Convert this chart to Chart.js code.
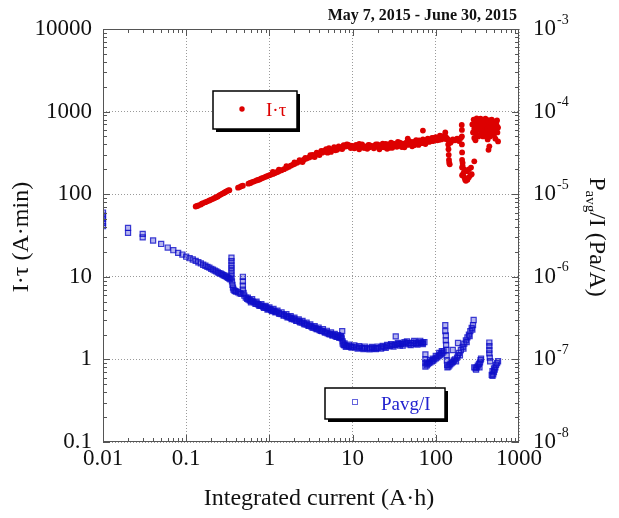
<!DOCTYPE html>
<html>
<head>
<meta charset="utf-8">
<script src="https://cdn.jsdelivr.net/npm/chart.js@4.4.1/dist/chart.umd.min.js"></script>
<style>
  html, body { margin: 0; padding: 0; background: #fff; }
  #wrap { width: 619px; height: 518px; }
</style>
</head>
<body>
<div id="wrap"><canvas id="out" width="619" height="518"></canvas></div>
<script>
// axis ticks
const xTicks = [0.01, 0.1, 1, 10, 100, 1000];
const xTickLabels = ["0.01", "0.1", "1", "10", "100", "1000"];
const yTicks = [0.1, 1, 10, 100, 1000, 10000];
const yTickLabels = ["0.1", "1", "10", "100", "1000", "10000"];
const y2Ticks = [1e-8, 1e-7, 1e-6, 1e-5, 1e-4, 1e-3];
const y2Exponents = ["-8", "-7", "-6", "-5", "-4", "-3"];

// I·tau (A·min) vs integrated current (A·h)
const itauData = [
  [0.13,71],[0.135,72],[0.14,73],[0.15,75],[0.155,77],[0.16,78],[0.17,80],[0.18,82],[0.19,84],[0.2,86],
  [0.21,88],[0.22,90],[0.23,92],[0.24,94],[0.25,97],[0.26,99],[0.27,101],[0.28,103],[0.29,105],[0.3,107],
  [0.31,109],[0.32,111],[0.33,112],
  [0.42,120],[0.44,122],[0.46,125],[0.48,127],
  [0.56,134],[0.58,136],[0.6,138],[0.63,141],[0.66,143],[0.7,147],[0.73,149],[0.76,151],[0.8,155],[0.84,158],
  [0.88,161],[0.92,164],[0.96,167],[1.0,170],[1.05,173],[1.1,176],[1.15,179],[1.2,183],[1.25,186],[1.3,189],
  [1.4,195],[1.5,201],[1.6,208],[1.7,214],[1.8,221],[1.9,227],[2.0,232],[2.15,240],[2.3,248],[2.45,254],
  [2.6,262],[2.8,270],[3.0,278],[3.2,286],[3.4,293],[3.6,300],[3.8,306],[4.0,312],[4.3,318],[4.6,326],
  [5.0,334],[5.4,342],[5.8,350],[6.2,356],[6.6,362],[7.0,367],[7.5,372],[8.0,376],[8.5,380],[9.0,384],
  [9.5,388],[10,385],[2.5,245],[3.5,282],[4.5,335],[5.5,325],[6.5,345],[7.5,352],[8.5,400],[9.5,362],
  [1.1,186],[1.3,198],[1.6,218],[2.0,243],[2.3,258],[2.7,275],[3.1,296],[3.7,318],[4.2,335],[4.8,350],
  [5.2,360],[6.0,372],[6.8,380],[7.8,392],[8.8,398],[3.3,300],[4.0,298],[5.0,318],[6.2,340],[7.2,358],
  [10.5,360],[11,395],[11.5,375],[12,350],[12.5,385],[13,400],[13.5,365],[14,380],[15,355],[15.5,395],
  [16,370],[17,385],[18,360],[19,400],[20,375],[21,350],[22,390],[23,410],[24,370],[25,385],
  [26,355],[27,400],[28,380],[29,420],[30,365],[32,395],[34,375],[35,430],[36,400],[38,385],
  [40,410],[42,370],[44,420],[46,395],[48,440],[50,405],[52,380],[54,430],[56,410],[58,450],
  [60,420],[62,395],[65,440],[68,415],[70,460],[72,430],[75,405],[78,450],[80,470],[83,430],
  [86,455],[90,480],[93,440],[96,465],[100,490],[104,450],[108,475],[112,510],[116,460],[120,490],
  [125,470],[130,500],[135,480],[70,590],[130,560],[46,470],
  [11,370],[12,405],[14,365],[16,392],[18,378],[20,402],[23,372],[25,405],[28,365],[31,410],
  [33,390],[37,420],[39,372],[43,400],[47,418],[51,428],[55,392],[59,430],[63,448],[67,430],
  [71,440],[76,425],[82,455],[88,440],[95,480],[102,470],[110,455],[118,505],[124,488],[133,465],
  [140,460],[141,400],[142,350],[143,300],[144,260],[145,240],[147,230],
  [150,420],[155,440],[160,460],[170,450],[180,470],[190,440],[200,480],
  [205,690],[206,600],[206,500],[206,400],[207,320],[207,260],[207,210],[207,170],
  [210,220],[215,180],[220,160],[225,150],[230,145],[240,150],[250,160],[260,170],[270,175],
  [220,200],[235,190],[250,200],[265,210],[210,240],[290,250],
  [275,700],[280,560],[285,800],[290,480],[295,650],[300,760],[305,540],[310,830],[315,620],[320,700],
  [325,500],[330,780],[335,600],[340,680],[345,820],[350,540],[355,720],[360,620],[365,790],[370,500],
  [375,680],[380,760],[385,580],[390,700],[395,820],[400,520],[405,640],[410,740],[415,600],[420,790],
  [425,680],[430,540],[435,720],[440,620],[445,780],[450,500],[455,680],[460,740],[465,580],[470,800],
  [475,640],[480,720],[490,560],[500,760],[510,660],[520,600],[530,740],[540,680],[550,560],[560,640],
  [430,345],[440,380],[560,436],[300,450],[420,460],[520,470],[290,620],[330,640],[370,700],[410,560],
  [450,600],[490,680],[530,620],[545,780],[500,520]
];

// Pavg/I (Pa/A) vs integrated current (A·h)
const pavgData = [
  [0.01,6.0e-6],[0.01,5.5e-6],[0.01,5.0e-6],[0.01,4.5e-6],[0.01,4.1e-6],
  [0.02,3.9e-6],[0.02,3.4e-6],[0.03,3.3e-6],[0.03,3.0e-6],[0.04,2.75e-6],[0.05,2.5e-6],
  [0.06,2.26e-6],[0.07,2.1e-6],[0.08,1.95e-6],[0.09,1.86e-6],
  [0.1,1.75e-6],[0.11,1.68e-6],[0.12,1.62e-6],[0.13,1.56e-6],[0.14,1.5e-6],[0.15,1.45e-6],[0.16,1.4e-6],
  [0.17,1.36e-6],[0.18,1.32e-6],[0.19,1.29e-6],[0.2,1.25e-6],[0.21,1.22e-6],[0.22,1.19e-6],[0.23,1.16e-6],
  [0.24,1.13e-6],[0.25,1.11e-6],[0.26,1.09e-6],[0.27,1.07e-6],[0.28,1.05e-6],[0.29,1.03e-6],[0.3,1.01e-6],
  [0.31,0.99e-6],[0.32,0.97e-6],[0.33,0.95e-6],[0.34,0.93e-6],
  [0.35,1.7e-6],[0.35,1.55e-6],[0.35,1.4e-6],[0.35,1.28e-6],[0.35,1.17e-6],[0.35,1.07e-6],[0.35,0.98e-6],
  [0.355,0.88e-6],[0.36,0.8e-6],[0.365,0.74e-6],[0.37,0.7e-6],[0.38,0.68e-6],[0.39,0.67e-6],[0.4,0.66e-6],
  [0.42,0.65e-6],[0.44,0.63e-6],[0.46,0.62e-6],
  [0.48,1.0e-6],[0.48,0.88e-6],[0.48,0.78e-6],[0.48,0.7e-6],[0.49,0.64e-6],
  [0.5,0.59e-6],[0.52,0.56e-6],[0.54,0.54e-6],[0.56,0.53e-6],[0.58,0.52e-6],[0.6,0.51e-6],[0.63,0.5e-6],
  [0.66,0.49e-6],[0.7,0.475e-6],[0.73,0.465e-6],[0.76,0.455e-6],[0.8,0.445e-6],[0.84,0.435e-6],
  [0.88,0.428e-6],[0.92,0.42e-6],[0.96,0.413e-6],[1.0,0.405e-6],[1.05,0.397e-6],[1.1,0.39e-6],
  [1.15,0.383e-6],[1.2,0.376e-6],[1.3,0.364e-6],[1.4,0.353e-6],[1.5,0.343e-6],[1.6,0.334e-6],
  [1.7,0.326e-6],[1.8,0.318e-6],[1.9,0.311e-6],[2.0,0.304e-6],[2.15,0.295e-6],[2.3,0.287e-6],
  [2.45,0.279e-6],[2.6,0.272e-6],[2.8,0.264e-6],[3.0,0.256e-6],[3.2,0.249e-6],[3.4,0.243e-6],
  [3.6,0.237e-6],[3.8,0.232e-6],[4.0,0.227e-6],[4.3,0.22e-6],[4.6,0.214e-6],[5.0,0.207e-6],
  [5.4,0.201e-6],[5.8,0.196e-6],[6.2,0.191e-6],[6.6,0.187e-6],[7.0,0.183e-6],[7.4,0.18e-6],
  [0.55,0.56e-6],[0.62,0.535e-6],[0.7,0.5e-6],[0.8,0.468e-6],[0.9,0.445e-6],[1.0,0.425e-6],
  [1.12,0.408e-6],[1.25,0.39e-6],[1.4,0.372e-6],[1.6,0.352e-6],[1.8,0.335e-6],[2.0,0.32e-6],
  [2.25,0.305e-6],[2.5,0.292e-6],[2.8,0.278e-6],[3.1,0.266e-6],[3.5,0.253e-6],[3.9,0.243e-6],
  [4.4,0.232e-6],[4.9,0.222e-6],[5.5,0.212e-6],[6.1,0.204e-6],[6.7,0.197e-6],[7.2,0.192e-6],
  [0.6,0.49e-6],[0.68,0.47e-6],[0.76,0.445e-6],[0.86,0.42e-6],[0.95,0.402e-6],[1.07,0.385e-6],
  [1.18,0.37e-6],[1.32,0.355e-6],[1.48,0.338e-6],[1.65,0.323e-6],[1.85,0.308e-6],[2.1,0.292e-6],
  [2.35,0.28e-6],[2.65,0.266e-6],[2.95,0.254e-6],[3.3,0.242e-6],[3.7,0.232e-6],[4.15,0.222e-6],
  [4.7,0.211e-6],[5.2,0.203e-6],[5.7,0.196e-6],[6.4,0.188e-6],[6.9,0.183e-6],[7.3,0.186e-6],
  [7.5,0.22e-6],[7.6,0.165e-6],[7.6,0.155e-6],[7.8,0.15e-6],[8.0,0.148e-6],[8.5,0.146e-6],[9.0,0.144e-6],
  [9.5,0.143e-6],[10,0.142e-6],[11,0.14e-6],[12,0.139e-6],[13,0.138e-6],[14,0.137e-6],[15,0.136e-6],
  [16,0.136e-6],[17,0.136e-6],[18,0.136e-6],[19,0.137e-6],[20,0.138e-6],[22,0.14e-6],[24,0.142e-6],
  [26,0.144e-6],[28,0.146e-6],[30,0.148e-6],[32,0.15e-6],[33,0.19e-6],[34,0.152e-6],[36,0.153e-6],
  [38,0.154e-6],[40,0.155e-6],[43,0.156e-6],[46,0.157e-6],[50,0.158e-6],[54,0.158e-6],[58,0.159e-6],
  [62,0.16e-6],[66,0.16e-6],[70,0.161e-6],[73,0.162e-6],
  [8.0,0.156e-6],[9.0,0.151e-6],[10.5,0.148e-6],[12,0.145e-6],[14,0.143e-6],[17,0.142e-6],
  [20,0.143e-6],[23,0.146e-6],[26,0.15e-6],[29,0.153e-6],[35,0.158e-6],[42,0.162e-6],
  [40,0.147e-6],[50,0.149e-6],[60,0.151e-6],[70,0.153e-6],[45,0.165e-6],[55,0.167e-6],[65,0.168e-6],
  [8.3,0.142e-6],[9.7,0.139e-6],[11.5,0.135e-6],[13.5,0.133e-6],[16,0.132e-6],[19,0.133e-6],
  [22,0.135e-6],[25,0.138e-6],[31,0.143e-6],[37,0.147e-6],[48,0.152e-6],[58,0.154e-6],[68,0.157e-6],
  [75,1.15e-7],[75,1.0e-7],[75,0.9e-7],[75,0.82e-7],[78,0.85e-7],[80,0.88e-7],[83,0.9e-7],[86,0.92e-7],
  [90,0.95e-7],[93,0.97e-7],[96,1.0e-7],[100,1.03e-7],[104,1.06e-7],[108,1.1e-7],[112,1.13e-7],
  [116,1.17e-7],[120,1.2e-7],[124,1.25e-7],
  [78,0.92e-7],[85,0.98e-7],[92,1.02e-7],[100,1.1e-7],[110,1.2e-7],[118,1.26e-7],
  [130,2.6e-7],[130,2.2e-7],[132,1.95e-7],[132,1.7e-7],[133,1.5e-7],[134,1.3e-7],[135,1.12e-7],
  [136,0.97e-7],[137,0.86e-7],[138,0.8e-7],
  [142,0.82e-7],[146,0.85e-7],[150,0.88e-7],[155,0.9e-7],[160,0.93e-7],[165,0.97e-7],[170,1.0e-7],
  [160,1.3e-7],[185,1.58e-7],
  [175,0.95e-7],[180,1.05e-7],[185,1.12e-7],[190,1.2e-7],[200,1.3e-7],[210,1.42e-7],[220,1.55e-7],
  [230,1.7e-7],[240,1.85e-7],[250,2.0e-7],[260,2.2e-7],[270,2.4e-7],[280,2.6e-7],[285,3.0e-7],
  [195,1.12e-7],[215,1.35e-7],[235,1.62e-7],[255,1.92e-7],[275,2.3e-7],
  [290,0.8e-7],[300,0.78e-7],[305,0.75e-7],[310,0.8e-7],[320,0.84e-7],[330,0.88e-7],[340,0.92e-7],
  [345,0.98e-7],[350,1.02e-7],[335,0.8e-7],
  [440,1.6e-7],[440,1.45e-7],[440,1.3e-7],[440,1.18e-7],[445,1.05e-7],[450,0.95e-7],
  [470,0.65e-7],[480,0.63e-7],[490,0.66e-7],[500,0.7e-7],[510,0.75e-7],[520,0.8e-7],[530,0.86e-7],
  [545,0.9e-7],[560,0.95e-7],[480,0.72e-7],[500,0.78e-7]
];

const serif = "'Liberation Serif', 'Times New Roman', serif";
const red = "#dd0000";
const blue = "#2323cf";

// frame, inward ticks, legends, titles and right-hand labels
const decorations = {
  id: "decorations",
  afterDraw(chart) {
    const ctx = chart.ctx;
    const a = chart.chartArea;
    const sx = chart.scales.x, sy = chart.scales.y, sy2 = chart.scales.y2;
    ctx.save();

    ctx.strokeStyle = "#555";
    ctx.lineWidth = 1;
    ctx.strokeRect(a.left + 0.5, a.top + 0.5, a.right - a.left - 1, a.bottom - a.top - 1);

    ctx.beginPath();
    for (let k = -2; k < 3; k++) {
      for (let j = 1; j < 10; j++) {
        const px = Math.round(sx.getPixelForValue(j * Math.pow(10, k))) + 0.5;
        const len = j === 1 ? 7 : 4;
        ctx.moveTo(px, a.bottom); ctx.lineTo(px, a.bottom - len);
        ctx.moveTo(px, a.top); ctx.lineTo(px, a.top + len);
      }
    }
    for (let k = -1; k < 4; k++) {
      for (let j = 1; j < 10; j++) {
        const py = Math.round(sy.getPixelForValue(j * Math.pow(10, k))) + 0.5;
        const len = j === 1 ? 7 : 4;
        ctx.moveTo(a.left, py); ctx.lineTo(a.left + len, py);
        ctx.moveTo(a.right, py); ctx.lineTo(a.right - len, py);
      }
    }
    ctx.stroke();

    // right axis labels 10^n
    ctx.fillStyle = "#111";
    ctx.textBaseline = "middle";
    ctx.textAlign = "left";
    y2Ticks.forEach((v, i) => {
      const py = sy2.getPixelForValue(v);
      ctx.font = "23px " + serif;
      ctx.fillText("10", 533, py);
      const w = ctx.measureText("10").width;
      ctx.font = "14px " + serif;
      ctx.fillText(y2Exponents[i], 533 + w + 1, py - 9);
    });

    // axis titles
    ctx.font = "24px " + serif;
    ctx.textAlign = "center";
    ctx.fillText("Integrated current (A\u00b7h)", 319, 499);

    ctx.save();
    ctx.translate(22, 237);
    ctx.rotate(-Math.PI / 2);
    ctx.fillText("I\u00b7\u03c4 (A\u00b7min)", 0, 0);
    ctx.restore();

    ctx.save();
    ctx.translate(596, 237);
    ctx.rotate(Math.PI / 2);
    ctx.textAlign = "left";
    ctx.font = "24px " + serif;
    const wP = ctx.measureText("P").width;
    const wRest = ctx.measureText("/I (Pa/A)").width;
    ctx.font = "15px " + serif;
    const wSub = ctx.measureText("avg").width;
    let x0 = -(wP + wSub + wRest) / 2;
    ctx.font = "24px " + serif;
    ctx.fillText("P", x0, 0);
    ctx.font = "15px " + serif;
    ctx.fillText("avg", x0 + wP, 6);
    ctx.font = "24px " + serif;
    ctx.fillText("/I (Pa/A)", x0 + wP + wSub, 0);
    ctx.restore();

    // date range
    ctx.font = "bold 16px " + serif;
    ctx.textAlign = "right";
    ctx.textBaseline = "alphabetic";
    ctx.fillText("May 7, 2015 - June 30, 2015", 517, 20);

    // legend boxes
    function box(x, y, w, h) {
      ctx.fillStyle = "#000";
      ctx.fillRect(x + 3, y + 3, w, h);
      ctx.fillStyle = "#fff";
      ctx.fillRect(x, y, w, h);
      ctx.strokeStyle = "#000";
      ctx.lineWidth = 1.5;
      ctx.strokeRect(x, y, w, h);
    }
    box(213, 91, 84, 38);
    ctx.fillStyle = red;
    ctx.beginPath();
    ctx.arc(242, 109, 2.7, 0, Math.PI * 2);
    ctx.fill();
    ctx.font = "19px " + serif;
    ctx.textAlign = "left";
    ctx.textBaseline = "middle";
    ctx.fillText("I\u00b7\u03c4", 266, 111);

    box(325, 388, 120, 31);
    ctx.strokeStyle = "rgba(35,35,207,0.7)";
    ctx.lineWidth = 1;
    ctx.strokeRect(352.5, 399.5, 5, 5);
    ctx.fillStyle = blue;
    ctx.fillText("Pavg/I", 381, 405);

    ctx.restore();
  }
};

const canvasCtx = document.getElementById("out").getContext("2d");
const chart = new Chart(canvasCtx, {
  type: "scatter",
  data: {
    datasets: [
      {
        label: "I\u00b7\u03c4",
        data: itauData.map(p => ({ x: p[0], y: p[1] })),
        xAxisID: "x",
        yAxisID: "y",
        pointStyle: "circle",
        pointRadius: 2.9,
        backgroundColor: red,
        borderWidth: 0
      },
      {
        label: "Pavg/I",
        data: pavgData.map(p => ({ x: p[0], y: p[1] })),
        xAxisID: "x",
        yAxisID: "y2",
        pointStyle: "rect",
        pointRadius: 3.6,
        backgroundColor: "rgba(10,10,200,0.3)",
        borderColor: "rgba(15,15,200,0.8)",
        borderWidth: 1.2
      }
    ]
  },
  options: {
    responsive: false,
    animation: false,
    events: [],
    layout: { padding: { top: 29, left: 0, right: 0, bottom: 0 } },
    plugins: { legend: { display: false }, tooltip: { enabled: false } },
    scales: {
      x: {
        type: "logarithmic",
        position: "bottom",
        min: 0.01,
        max: 1000,
        afterBuildTicks: s => { s.ticks = xTicks.map(v => ({ value: v })); },
        afterFit: s => { s.height = 76; },
        ticks: {
          autoSkip: false,
          maxRotation: 0,
          padding: 3,
          color: "#111",
          font: { family: serif, size: 23 },
          callback: v => xTickLabels[xTicks.indexOf(v)]
        },
        grid: { color: "#9a9a9a", lineWidth: 1, drawTicks: false },
        border: { display: false, dash: [1, 2] }
      },
      y: {
        type: "logarithmic",
        position: "left",
        min: 0.1,
        max: 10000,
        afterBuildTicks: s => { s.ticks = yTicks.map(v => ({ value: v })); },
        afterFit: s => { s.width = 103; },
        ticks: {
          autoSkip: false,
          padding: 11,
          color: "#111",
          font: { family: serif, size: 23 },
          callback: v => yTickLabels[yTicks.indexOf(v)]
        },
        grid: { color: "#9a9a9a", lineWidth: 1, drawTicks: false },
        border: { display: false, dash: [1, 2] }
      },
      y2: {
        type: "logarithmic",
        position: "right",
        min: 1e-8,
        max: 1e-3,
        afterBuildTicks: s => { s.ticks = y2Ticks.map(v => ({ value: v })); },
        afterFit: s => { s.width = 100; },
        ticks: { display: false },
        grid: { display: false, drawTicks: false },
        border: { display: false }
      }
    }
  },
  plugins: [decorations]
});
</script>
</body>
</html>
